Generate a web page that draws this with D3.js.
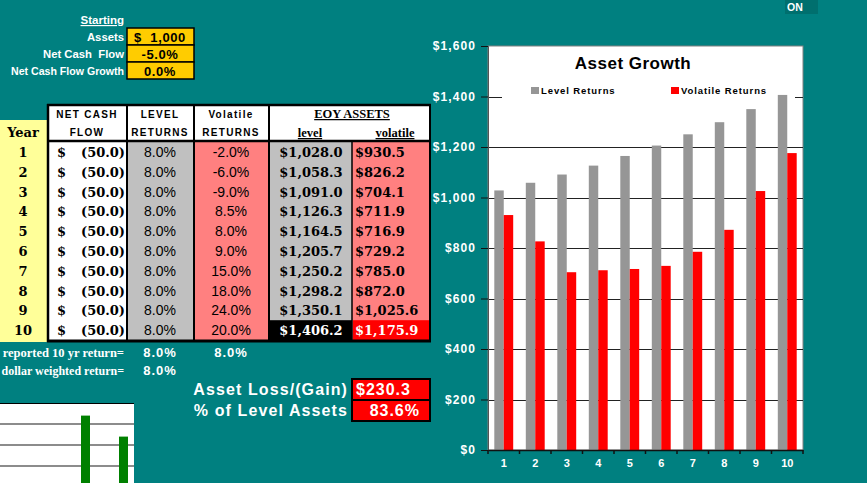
<!DOCTYPE html>
<html>
<head>
<meta charset="utf-8">
<script src="https://cdn.jsdelivr.net/npm/d3@7"></script>
<style>
  html, body { margin: 0; padding: 0; background: #008080; overflow: hidden; }
  svg { display: block; }
</style>
</head>
<body>
<svg id="sheet" width="867" height="483"></svg>
<script>
// ---- data ----
const years = [1, 2, 3, 4, 5, 6, 7, 8, 9, 10];
const netCashFlow = [-50.0, -50.0, -50.0, -50.0, -50.0, -50.0, -50.0, -50.0, -50.0, -50.0];
const levelReturns = [8.0, 8.0, 8.0, 8.0, 8.0, 8.0, 8.0, 8.0, 8.0, 8.0];
const volatileReturns = [-2.0, -6.0, -9.0, 8.5, 8.0, 9.0, 15.0, 18.0, 24.0, 20.0];
const eoyLevel = [1028.0, 1058.3, 1091.0, 1126.3, 1164.5, 1205.7, 1250.2, 1298.2, 1350.1, 1406.2];
const eoyVolatile = [930.5, 826.2, 704.1, 711.9, 716.9, 729.2, 785.0, 872.0, 1025.6, 1175.9];

const startingLabels = ["Assets", "Net Cash  Flow", "Net Cash Flow Growth"];
const startingValues = ["$  1,000", "-5.0%", "0.0%"];

const summaryLabels = ["reported 10 yr return=", "dollar weighted return="];
const summaryLevel = [8.0, 8.0];
const summaryVolatile = [8.0];
const assetLoss = 230.3;
const pctOfLevel = 83.6;

const seriesNames = ["Level Returns", "Volatile Returns"];
const yTickValues = [0, 200, 400, 600, 800, 1000, 1200, 1400, 1600];

// the cut-off green chart in the bottom-left corner
const miniValues = [3.4, 2.4];
const miniTicks = [1, 2, 3];

// ---- styling ----
const teal = "#008080";
const grayBar = "#969696";
const red = "#ff0000";
const salmon = "#ff8080";
const cellGray = "#c0c0c0";
const yellow = "#ffff99";
const gold = "#ffcc00";
const sans = "'Liberation Sans', Arial, sans-serif";
const serif = "'DejaVu Serif', serif";
const serif2 = "'Liberation Serif', serif";

const svg = d3.select("#sheet");
svg.append("rect").attr("width", 867).attr("height", 483).attr("fill", teal);

// plain hyphen for negatives, like the sheet
const loc = d3.formatLocale({ decimal: ".", thousands: ",", grouping: [3], currency: ["$", ""], minus: "-" });
const pct = d => loc.format(".1f")(d) + "%";
const money = d => "$" + loc.format(",.1f")(d);
const paren = d => d < 0 ? "(" + loc.format(".1f")(-d) + ")" : loc.format(".1f")(d);

// ---- top-right fragment ----
svg.append("rect").attr("x", 785).attr("y", 0).attr("width", 33).attr("height", 14).attr("fill", "#006f6e");
svg.append("text").attr("x", 787).attr("y", 10.5).attr("fill", "#ffffff")
  .style("font", "bold 10.5px " + sans).text("ON");

// ---- starting block ----
const start = svg.append("g");
start.append("text").attr("x", 124).attr("y", 24).attr("text-anchor", "end")
  .attr("fill", "#fff").attr("text-decoration", "underline")
  .style("font", "bold 11.5px " + sans).text("Starting");
start.selectAll("text.lbl").data(startingLabels).enter().append("text")
  .attr("class", "lbl")
  .attr("x", 124).attr("y", (d, i) => 41 + i * 17)
  .attr("text-anchor", "end").attr("fill", "#fff")
  .style("font", (d, i) => "bold " + (i === 2 ? 10.6 : 11.3) + "px " + sans).style("white-space", "pre")
  .text(d => d);
start.selectAll("rect").data(startingValues).enter().append("rect")
  .attr("x", 127).attr("y", (d, i) => 28 + i * 17).attr("width", 67).attr("height", 17)
  .attr("fill", gold).attr("stroke", "#000").attr("stroke-width", 1.5);
start.selectAll("text.val").data(startingValues).enter().append("text")
  .attr("class", "val")
  .attr("x", 160).attr("y", (d, i) => 41.5 + i * 17)
  .attr("text-anchor", "middle").attr("fill", "#000")
  .style("font", "bold 13px " + sans).style("letter-spacing", "0.6px").style("white-space", "pre")
  .text(d => d);

// ---- table ----
const table = svg.append("g");
const rowY = d3.scaleBand().domain(years).range([142, 340]);
const rh = rowY.bandwidth();

// year column
table.append("rect").attr("x", 0).attr("y", 120).attr("width", 47).attr("height", 222).attr("fill", yellow);
table.append("text").attr("x", 23).attr("y", 137).attr("text-anchor", "middle")
  .style("font", "bold 13px " + serif).text("Year");

// header
table.append("rect").attr("x", 48).attr("y", 105).attr("width", 382).attr("height", 36).attr("fill", "#fff");

// body columns
const cols = [
  { x: 48, w: 79, fill: "#ffffff" },
  { x: 127, w: 67, fill: cellGray },
  { x: 194, w: 75, fill: salmon },
  { x: 269, w: 83, fill: cellGray },
  { x: 352, w: 78, fill: salmon }
];
table.selectAll("rect.col").data(cols).enter().append("rect")
  .attr("class", "col")
  .attr("x", d => d.x).attr("y", 141).attr("width", d => d.w).attr("height", 200)
  .attr("fill", d => d.fill);

// last row highlight
table.append("rect").attr("x", 269).attr("y", rowY(10)).attr("width", 83).attr("height", rh).attr("fill", "#000");
table.append("rect").attr("x", 353).attr("y", rowY(10)).attr("width", 77).attr("height", rh).attr("fill", red);

// grid lines
const vlines = [
  { x: 48, y1: 104, y2: 342, w: 2.5 },
  { x: 127, y1: 105, y2: 342, w: 2 },
  { x: 194, y1: 105, y2: 342, w: 2 },
  { x: 269, y1: 105, y2: 342, w: 2 },
  { x: 352, y1: 141, y2: 342, w: 1.5 },
  { x: 430, y1: 104, y2: 342, w: 2 }
];
table.selectAll("line.v").data(vlines).enter().append("line")
  .attr("class", "v")
  .attr("x1", d => d.x).attr("x2", d => d.x).attr("y1", d => d.y1).attr("y2", d => d.y2)
  .attr("stroke", "#000").attr("stroke-width", d => d.w);
[105, 141, 341].forEach(yy => {
  table.append("line").attr("x1", 47).attr("x2", 431).attr("y1", yy).attr("y2", yy)
    .attr("stroke", "#000").attr("stroke-width", yy === 341 ? 3 : 2.5);
});

// header text
const hdr = [
  { t: "NET CASH", x: 87, y: 118 }, { t: "FLOW", x: 87, y: 136 },
  { t: "LEVEL", x: 160, y: 118 }, { t: "RETURNS", x: 160, y: 136 },
  { t: "Volatile", x: 231, y: 118 }, { t: "RETURNS", x: 231, y: 136 }
];
table.selectAll("text.h").data(hdr).enter().append("text")
  .attr("class", "h")
  .attr("x", d => d.x).attr("y", d => d.y).attr("text-anchor", "middle")
  .style("font", "bold 10px " + sans).style("letter-spacing", "1.3px")
  .text(d => d.t);
const hdr2 = [
  { t: "EOY ASSETS", x: 352, y: 118 },
  { t: "level", x: 310, y: 137 },
  { t: "volatile", x: 395, y: 137 }
];
table.selectAll("text.h2").data(hdr2).enter().append("text")
  .attr("class", "h2")
  .attr("x", d => d.x).attr("y", d => d.y).attr("text-anchor", "middle")
  .attr("text-decoration", "underline")
  .style("font", "bold 12.5px " + serif2)
  .text(d => d.t);

// body rows
const rows = table.selectAll("g.row").data(years).enter().append("g")
  .attr("class", "row")
  .attr("transform", d => "translate(0," + (rowY(d) + rh / 2 + 5) + ")");
rows.append("text").attr("x", 23).attr("text-anchor", "middle")
  .style("font", "bold 13px " + serif).text(d => d);
rows.append("text").attr("x", 57)
  .style("font", "bold 13px " + serif).text("$");
rows.append("text").attr("x", 125).attr("text-anchor", "end")
  .style("font", "bold 13px " + serif).text((d, i) => paren(netCashFlow[i]));
rows.append("text").attr("x", 160).attr("text-anchor", "middle")
  .style("font", "14px " + sans).text((d, i) => pct(levelReturns[i]));
rows.append("text").attr("x", 231).attr("text-anchor", "middle")
  .style("font", "14px " + sans).text((d, i) => pct(volatileReturns[i]));
rows.append("text").attr("x", 311).attr("text-anchor", "middle")
  .attr("fill", (d, i) => i === 9 ? "#fff" : "#000")
  .style("font", "bold 13px " + serif).text((d, i) => money(eoyLevel[i]));
rows.append("text").attr("x", 355)
  .attr("fill", (d, i) => i === 9 ? "#fff" : "#000")
  .style("font", "bold 13px " + serif).text((d, i) => money(eoyVolatile[i]));

// ---- summary under table ----
svg.selectAll("text.sl").data(summaryLabels).enter().append("text")
  .attr("class", "sl")
  .attr("x", 124).attr("y", (d, i) => 357 + i * 18).attr("text-anchor", "end")
  .attr("fill", "#fff").style("font", (d, i) => "bold " + (i === 0 ? 12.5 : 12) + "px " + serif2).text(d => d);
svg.selectAll("text.sv").data(summaryLevel).enter().append("text")
  .attr("class", "sv")
  .attr("x", 160).attr("y", (d, i) => 357 + i * 18).attr("text-anchor", "middle")
  .attr("fill", "#fff").style("font", "bold 13px " + sans).style("letter-spacing", "1px").text(pct);
svg.selectAll("text.sv2").data(summaryVolatile).enter().append("text")
  .attr("class", "sv2")
  .attr("x", 231).attr("y", 357).attr("text-anchor", "middle")
  .attr("fill", "#fff").style("font", "bold 13px " + sans).style("letter-spacing", "1px").text(pct);

const lossRows = [
  { label: "Asset Loss/(Gain)", value: "$" + loc.format(".1f")(assetLoss), anchor: "start", vx: 356 },
  { label: "% of Level Assets", value: pct(pctOfLevel), anchor: "end", vx: 420 }
];
const loss = svg.selectAll("g.loss").data(lossRows).enter().append("g")
  .attr("class", "loss").attr("transform", (d, i) => "translate(0," + (379 + i * 21) + ")");
loss.append("rect").attr("x", 352).attr("y", 0).attr("width", 78).attr("height", 21)
  .attr("fill", red).attr("stroke", "#000").attr("stroke-width", 2);
loss.append("text").attr("x", 348).attr("y", 15.5).attr("text-anchor", "end").attr("fill", "#fff")
  .style("font", "bold 16px " + sans).style("letter-spacing", "1.1px").text(d => d.label);
loss.append("text").attr("x", d => d.vx).attr("y", 15.5).attr("text-anchor", d => d.anchor).attr("fill", "#fff")
  .style("font", "bold 16px " + sans).style("letter-spacing", "1px").text(d => d.value);

// ---- mini chart (cut off) ----
const mini = svg.append("g");
const my = d3.scaleLinear().domain([0, 4]).range([487, 403]);
const mx = d3.scalePoint().domain(d3.range(miniValues.length)).range([85.5, 123.5]);
mini.append("rect").attr("x", 0).attr("y", 403).attr("width", 134).attr("height", 80).attr("fill", "#fff");
mini.append("line").attr("x1", 0).attr("x2", 134).attr("y1", 403.5).attr("y2", 403.5).attr("stroke", "#000");
mini.selectAll("line.g").data(miniTicks).enter().append("line")
  .attr("class", "g")
  .attr("x1", 0).attr("x2", 134).attr("y1", d => my(d)).attr("y2", d => my(d))
  .attr("stroke", "#666").attr("stroke-width", 1.5);
mini.selectAll("rect.b").data(miniValues).enter().append("rect")
  .attr("class", "b")
  .attr("x", (d, i) => mx(i) - 4.5).attr("width", 9)
  .attr("y", d => my(d)).attr("height", d => 487 - my(d))
  .attr("fill", "#008000");

// ---- Asset Growth chart ----
const plotL = 488, plotR = 803, plotT = 46, plotB = 450;
const chart = svg.append("g");
const x = d3.scaleBand().domain(years).range([plotL, plotR]);
const x1 = d3.scaleBand().domain(seriesNames)
  .range([x.bandwidth() * 0.2, x.bandwidth() * 0.8]);
const y = d3.scaleLinear().domain([0, 1600]).range([plotB, plotT]);

chart.append("rect").attr("x", plotL).attr("y", plotT).attr("width", plotR - plotL).attr("height", plotB - plotT)
  .attr("fill", "#fff").attr("stroke", "#808080").attr("stroke-width", 1);

chart.selectAll("line.grid").data(yTickValues.filter(d => d > 0 && d < 1600)).enter().append("line")
  .attr("class", "grid")
  .attr("x1", plotL).attr("x2", plotR).attr("y1", d => Math.round(y(d)) + 0.5).attr("y2", d => Math.round(y(d)) + 0.5)
  .attr("stroke", "#222").attr("stroke-width", 1);

// legend backdrop hides the gridline behind it
chart.append("rect").attr("x", 502).attr("y", 80).attr("width", 293).attr("height", 21).attr("fill", "#fff");

const groups = chart.selectAll("g.yr").data(years).enter().append("g")
  .attr("class", "yr").attr("transform", d => "translate(" + x(d) + ",0)");
groups.append("rect")
  .attr("x", x1(seriesNames[0])).attr("width", x1.bandwidth())
  .attr("y", (d, i) => y(eoyLevel[i])).attr("height", (d, i) => plotB - y(eoyLevel[i]))
  .attr("fill", grayBar);
groups.append("rect")
  .attr("x", x1(seriesNames[1])).attr("width", x1.bandwidth())
  .attr("y", (d, i) => y(eoyVolatile[i])).attr("height", (d, i) => plotB - y(eoyVolatile[i]))
  .attr("fill", red);

// y axis
const yAxis = chart.append("g").attr("transform", "translate(" + plotL + ",0)")
  .call(d3.axisLeft(y).tickValues(yTickValues).tickSize(7).tickPadding(5)
    .tickFormat(d => "$" + loc.format(",")(d)));
yAxis.select(".domain").attr("stroke", "#555");
yAxis.selectAll(".tick line").attr("stroke", "#111");
yAxis.selectAll(".tick text").attr("fill", "#fff")
  .style("font", "bold 12px " + sans).style("letter-spacing", "1.1px");

// x axis
const xAxis = chart.append("g").attr("transform", "translate(0," + plotB + ")")
  .call(d3.axisBottom(x).tickSize(0).tickPadding(9));
xAxis.select(".domain").attr("stroke", "#111").attr("stroke-width", 1.5);
xAxis.selectAll(".tick text").attr("fill", "#fff").style("font", "bold 11px " + sans);
chart.selectAll("line.xt").data(years.concat([null])).enter().append("line")
  .attr("class", "xt")
  .attr("x1", d => d === null ? plotR : x(d)).attr("x2", d => d === null ? plotR : x(d))
  .attr("y1", plotB).attr("y2", plotB + 4)
  .attr("stroke", "#111").attr("stroke-width", 1.5);

// title and legend
chart.append("text").attr("x", 633).attr("y", 69).attr("text-anchor", "middle")
  .style("font", "bold 17px " + sans).style("letter-spacing", "0.5px").text("Asset Growth");
const legendX = [531, 671];
const legend = chart.selectAll("g.leg").data(seriesNames).enter().append("g")
  .attr("class", "leg").attr("transform", (d, i) => "translate(" + legendX[i] + ",87)");
legend.append("rect").attr("width", 8).attr("height", 7).attr("fill", (d, i) => i === 0 ? grayBar : red);
legend.append("text").attr("x", 10).attr("y", 7)
  .style("font", "bold 9.5px " + sans).style("letter-spacing", "0.9px").text(d => d);
</script>
</body>
</html>
